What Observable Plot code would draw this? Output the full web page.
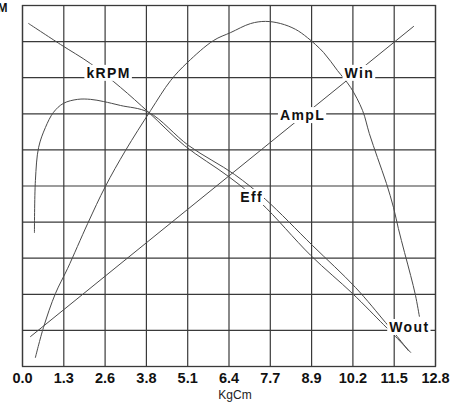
<!DOCTYPE html>
<html>
<head>
<meta charset="utf-8">
<script src="https://cdn.jsdelivr.net/npm/d3@7"></script>
<script src="https://cdn.jsdelivr.net/npm/@observablehq/plot@0.6"></script>
<style>
  html, body { margin: 0; padding: 0; background: #fff; }
  #chart svg { display: block; }
  g[aria-label="x-axis tick label"] { font-family: "Liberation Sans Narrow", "Liberation Sans", Arial, sans-serif; font-weight: bold; font-size: 14.5px; }
</style>
</head>
<body>
<div id="chart"></div>
<script>
// x ticks (KgCm) and their printed labels
const xTicks = [0, 1.28, 2.56, 3.84, 5.12, 6.4, 7.68, 8.96, 10.24, 11.52, 12.8];
const xTickLabels = ["0.0", "1.3", "2.6", "3.8", "5.1", "6.4", "7.7", "8.9", "10.2", "11.5", "12.8"];
const yGrid = [0, 1, 2, 3, 4, 5, 6, 7, 8, 9, 10];

// Series (x in KgCm, y in grid units 0–10)
const winAmpL = [[0.25, 0.83], [12.12, 9.42]];
const kRPM = [
  [0.19, 9.50], [1.18, 8.92], [2.11, 8.39], [3.04, 7.73], [3.91, 7.04], [5.02, 6.12],
  [6.39, 5.26], [7.38, 4.54], [8.93, 3.08], [10.23, 2.02], [11.19, 1.16], [11.56, 0.83], [12.03, 0.39]
];
const eff = [
  [0.37, 3.71], [0.40, 5.15], [0.50, 6.07], [0.71, 6.62], [0.96, 7.04], [1.27, 7.29],
  [1.71, 7.40], [2.11, 7.40], [2.51, 7.34], [3.04, 7.23], [3.91, 7.04], [5.15, 6.12],
  [6.57, 5.32], [7.53, 4.63], [8.99, 3.35], [10.32, 2.19], [11.25, 1.22], [11.56, 0.89], [11.96, 0.44]
];
const wout = [
  [0.40, 0.25], [0.65, 1.08], [1.02, 2.02], [1.40, 2.72], [2.02, 3.96], [2.57, 4.99],
  [3.19, 5.98], [3.97, 7.09], [4.59, 7.92], [5.11, 8.42], [5.92, 9.03], [6.45, 9.25],
  [7.07, 9.50], [7.53, 9.56], [8.00, 9.50], [8.46, 9.34], [8.83, 9.11], [9.33, 8.70],
  [9.76, 8.20], [10.17, 7.73], [10.54, 7.09], [10.75, 6.45], [11.00, 5.79], [11.28, 5.07],
  [11.50, 4.40], [11.65, 3.82], [11.84, 3.16], [12.03, 2.52], [12.18, 1.97], [12.30, 1.39]
];

// Curve labels
const labelText = ["kRPM", "Win", "AmpL", "Eff", "Wout"];
const labelX = [2.67, 10.44, 8.68, 7.10, 11.99];
const labelY = [8.12, 8.12, 6.95, 4.68, 1.08];
const labels = labelText.map((t, i) => ({text: t, x: labelX[i], y: labelY[i]}));

const curveStroke = "#4a4a4a";
const gridStroke = "#3a3a3a";

const svg = Plot.plot({
  width: 463,
  height: 407,
  marginTop: 5,
  marginLeft: 22,
  marginRight: 28,
  marginBottom: 41,
  style: {background: "#fff", color: "#1a1a1a", fontFamily: "Liberation Sans, Arial, sans-serif"},
  x: {domain: [0, 12.8]},
  y: {domain: [0, 10], axis: null},
  marks: [
    Plot.gridY(yGrid, {stroke: gridStroke, strokeOpacity: 1, strokeWidth: 1.2}),
    Plot.gridX(xTicks, {stroke: gridStroke, strokeOpacity: 1, strokeWidth: 1.2}),
    Plot.frame({stroke: gridStroke, strokeWidth: 1.3}),
    Plot.line(winAmpL, {x: d => d[0], y: d => d[1], stroke: curveStroke, strokeWidth: 1}),
    Plot.line(kRPM, {x: d => d[0], y: d => d[1], stroke: curveStroke, strokeWidth: 1, curve: "catmull-rom"}),
    Plot.line(eff, {x: d => d[0], y: d => d[1], stroke: curveStroke, strokeWidth: 1, curve: "catmull-rom"}),
    Plot.line(wout, {x: d => d[0], y: d => d[1], stroke: curveStroke, strokeWidth: 1, curve: "catmull-rom"}),
    Plot.axisX(xTicks, {
      tickSize: 0, tickPadding: 6, label: null,
      tickFormat: d => xTickLabels[xTicks.indexOf(d)],
      fill: "#111"
    }),
    Plot.text(["KgCm"], {frameAnchor: "bottom", dx: 6, dy: 29, fontSize: 12, fill: "#222", lineAnchor: "middle"}),
    Plot.text(["M"], {frameAnchor: "top-left", dx: -25, dy: -2, fontSize: 12, fontWeight: "bold", fill: "#111", textAnchor: "start", lineAnchor: "top"}),
    Plot.text(labels, {x: "x", y: "y", text: "text", fill: "#111", fontSize: 14, fontWeight: "bold", fontFamily: "Liberation Sans, Arial, sans-serif"})
  ]
});

document.getElementById("chart").append(svg);

// white boxes behind the curve labels (as in the original drawing)
const textGroups = svg.querySelectorAll('g[aria-label="text"]');
const lg = textGroups[textGroups.length - 1];
if (lg) {
  lg.style.letterSpacing = "1.4px";
  lg.querySelectorAll("text").forEach(t => {
    const b = t.getBBox();
    const r = document.createElementNS("http://www.w3.org/2000/svg", "rect");
    r.setAttribute("x", b.x - 2);
    r.setAttribute("y", b.y);
    r.setAttribute("width", b.width + 3);
    r.setAttribute("height", b.height);
    r.setAttribute("fill", "#fff");
    const tr = t.getAttribute("transform");
    if (tr) r.setAttribute("transform", tr);
    t.parentNode.insertBefore(r, t);
  });
}
</script>
</body>
</html>
